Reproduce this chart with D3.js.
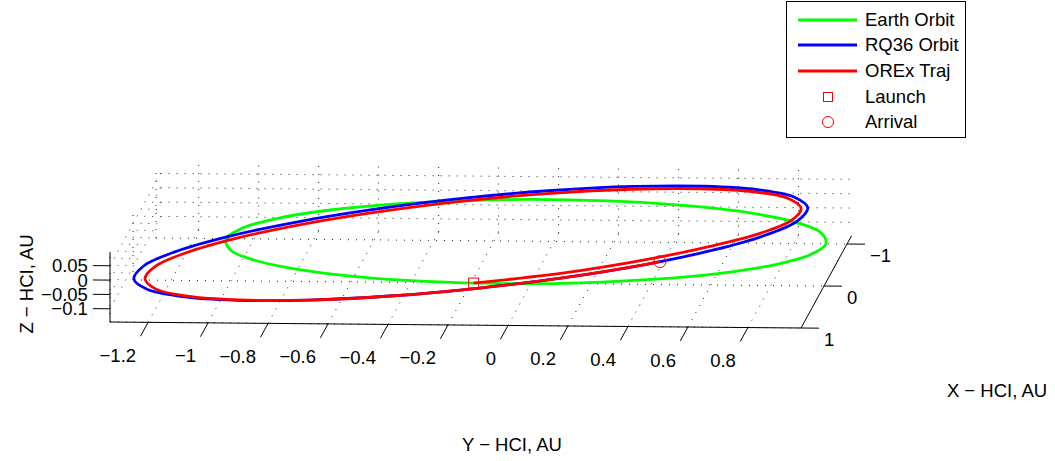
<!DOCTYPE html>
<html>
<head>
<meta charset="utf-8">
<script src="https://cdn.jsdelivr.net/npm/d3@7"></script>
<style>
  body { margin: 0; background: #fff; }
  text { font-family: "Liberation Sans", Arial, Helvetica, sans-serif; font-size: 18.5px; fill: #000; }
</style>
</head>
<body>
<svg id="chart" width="1055" height="461"></svg>
<script>
// axis limits (axis tight) and ticks
const xLim = [-1.327, 0.977];
const yLim = [-1.2, 1.0];
const zLim = [-0.146, 0.098];
const xTicks = [-1.2, -1, -0.8, -0.6, -0.4, -0.2, 0, 0.2, 0.4, 0.6, 0.8];
const xTickLabels = ["−1.2", "−1", "−0.8", "−0.6", "−0.4", "−0.2", "0", "0.2", "0.4", "0.6", "0.8"];
const yTicks = [-1, 0, 1];
const yTickLabels = ["−1", "0", "1"];
const zTicks = [-0.1, -0.05, 0, 0.05];
const zTickLabels = ["−0.1", "−0.05", "0", "0.05"];

// Earth orbit, Z = 0
const earthX = [0.9833, 0.9492, 0.8493, 0.6904, 0.4833, 0.2421, -0.0167, -0.2755, -0.5167, -0.7238, -0.8827, -0.9826,
  -1.0167, -0.9826, -0.8827, -0.7238, -0.5167, -0.2755, -0.0167, 0.2421, 0.4833, 0.6904, 0.8493, 0.9492];
const earthY = [0, 0.2588, 0.5, 0.7071, 0.866, 0.9659, 1, 0.9659, 0.866, 0.7071, 0.5, 0.2588,
  0, -0.2588, -0.5, -0.7071, -0.866, -0.9659, -1, -0.9659, -0.866, -0.7071, -0.5, -0.2588];

// RQ36 orbit
const rq36X = [0.8123, 0.657, 0.4427, 0.1841, -0.1012, -0.3939, -0.6739, -0.9221, -1.1217, -1.2591, -1.3248, -1.3144,
  -1.2287, -1.0734, -0.859, -0.6005, -0.3151, -0.0225, 0.2575, 0.5057, 0.7054, 0.8427, 0.9085, 0.898];
const rq36Y = [0.3788, 0.621, 0.8144, 0.9456, 1.0058, 0.9908, 0.9016, 0.7445, 0.5299, 0.2727, -0.0097, -0.2982,
  -0.5729, -0.8152, -1.0085, -1.1397, -1.1999, -1.1849, -1.0958, -0.9386, -0.724, -0.4668, -0.1844, 0.104];
const rq36Z = [0.0859, 0.0677, 0.0433, 0.0146, -0.0166, -0.0483, -0.0781, -0.1041, -0.1246, -0.138, -0.1435, -0.1407,
  -0.1299, -0.1117, -0.0873, -0.0586, -0.0274, 0.0043, 0.0341, 0.0601, 0.0806, 0.094, 0.0995, 0.0967];

// OREx trajectory, launch -> arrival
const orexX = [-0.115, 0.1823, 0.4361, 0.6439, 0.7944, 0.8773, 0.8867, 0.8216, 0.6878, 0.4931, 0.2511, -0.0219,
  -0.3066, -0.5837, -0.8341, -1.0412, -1.1918, -1.275, -1.2877, -1.2314, -1.106, -0.9166, -0.6739, -0.3939,
  -0.1012, 0.1841, 0.4427, 0.49];
const orexY = [0.995, 0.9361, 0.8022, 0.6086, 0.3705, 0.1016, -0.18, -0.4551, -0.7059, -0.9151, -1.0684, -1.1541,
  -1.1675, -1.1078, -0.9793, -0.7907, -0.5557, -0.2893, -0.0094, 0.2667, 0.5225, 0.74, 0.9016, 0.9908,
  1.0058, 0.9456, 0.8144, 0.78];
const orexZ = [0, 0.0295, 0.0567, 0.0783, 0.091, 0.0975, 0.0971, 0.0917, 0.0766, 0.0546, 0.0282, -0.0008,
  -0.0317, -0.062, -0.0898, -0.1133, -0.131, -0.1405, -0.1425, -0.137, -0.1239, -0.1035, -0.0781, -0.0483,
  -0.0166, 0.0146, 0.0433, 0.0486];

const launchPt = [-0.115, 0.995, 0];
const arrivalPt = [0.49, 0.78, 0.0486];

const legendNames = ["Earth Orbit", "RQ36 Orbit", "OREx Traj", "Launch", "Arrival"];

const svg = d3.select("#chart");
svg.append("rect").attr("width", 1055).attr("height", 461).attr("fill", "#fff");

// simple orthographic projection built from three linear scales
const xScale = d3.scaleLinear().domain(xLim).range([0, 691]);
const yScale = d3.scaleLinear().domain([yLim[1], yLim[0]]).range([0, 1]); // depth
const zScale = d3.scaleLinear().domain(zLim).range([0, 70]);
const ORIGIN = [110, 322];
function project(p) {
  const u = xScale(p[0]), d = yScale(p[1]), h = zScale(p[2]);
  return [ORIGIN[0] + u + 50.6 * d, ORIGIN[1] + u * 0.0087 - 92.4 * d - h];
}

const g = svg.append("g");

// dotted grid on floor and back walls
const grid = [];
for (const x of xTicks) {
  grid.push([[x, yLim[1], zLim[0]], [x, yLim[0], zLim[0]]]);
  grid.push([[x, yLim[0], zLim[0]], [x, yLim[0], zLim[1]]]);
}
for (const y of yTicks) {
  grid.push([[xLim[0], y, zLim[0]], [xLim[1], y, zLim[0]]]);
  grid.push([[xLim[0], y, zLim[0]], [xLim[0], y, zLim[1]]]);
}
for (const z of zTicks) {
  grid.push([[xLim[0], yLim[0], z], [xLim[1], yLim[0], z]]);
  grid.push([[xLim[0], yLim[0], z], [xLim[0], yLim[1], z]]);
}
const seg = d3.line().x(d => project(d)[0]).y(d => project(d)[1]);
g.append("g").selectAll("path").data(grid).join("path")
  .attr("d", seg)
  .attr("fill", "none")
  .attr("stroke", "#222")
  .attr("stroke-width", 1)
  .attr("stroke-dasharray", "1,7");

// axis lines
const axes = [
  [[xLim[0], yLim[1], zLim[0]], [xLim[1], yLim[1], zLim[0]]],
  [[xLim[1], yLim[0], zLim[0]], [xLim[1], yLim[1], zLim[0]]],
  [[xLim[0], yLim[1], zLim[0]], [xLim[0], yLim[1], zLim[1]]]
];
g.append("g").selectAll("path").data(axes).join("path")
  .attr("d", seg).attr("stroke", "#000").attr("stroke-width", 1).attr("fill", "none");

// ticks
const ticks = [];
xTicks.forEach(x => ticks.push([[x, yLim[1], zLim[0]], [x, yLim[1] + 0.33, zLim[0]]]));
yTicks.forEach(y => ticks.push([[xLim[1], y, zLim[0]], [xLim[1] + 0.06, y, zLim[0]]]));
zTicks.forEach(z => ticks.push([[xLim[0], yLim[1], z], [xLim[0] - 0.057, yLim[1], z]]));
g.append("g").selectAll("path").data(ticks).join("path")
  .attr("d", seg).attr("stroke", "#000").attr("stroke-width", 1).attr("fill", "none");

// tick labels
g.append("g").selectAll("text").data(xTicks).join("text")
  .attr("x", d => project([d, yLim[1], zLim[0]])[0] - 12)
  .attr("y", d => project([d, yLim[1], zLim[0]])[1] + 33)
  .attr("text-anchor", "end").attr("dy", "0.35em")
  .text((d, i) => xTickLabels[i]);
g.append("g").selectAll("text").data(yTicks).join("text")
  .attr("x", d => project([xLim[1] + 0.06, d, zLim[0]])[0] + 5)
  .attr("y", d => project([xLim[1] + 0.06, d, zLim[0]])[1] + 11)
  .attr("text-anchor", "start").attr("dy", "0.35em")
  .text((d, i) => yTickLabels[i]);
g.append("g").selectAll("text").data(zTicks).join("text")
  .attr("x", d => project([xLim[0] - 0.057, yLim[1], d])[0] - 5)
  .attr("y", d => project([xLim[0], yLim[1], d])[1])
  .attr("text-anchor", "end").attr("dy", "0.35em")
  .text((d, i) => zTickLabels[i]);

// axis labels
svg.append("text").attr("x", 997).attr("y", 391).attr("text-anchor", "middle").attr("dy", "0.35em").text("X − HCI, AU");
svg.append("text").attr("x", 512).attr("y", 445).attr("text-anchor", "middle").attr("dy", "0.35em").text("Y − HCI, AU");
svg.append("text").attr("transform", "translate(27,284) rotate(-90)").attr("text-anchor", "middle").attr("dy", "0.35em").text("Z − HCI, AU");

// orbits
const curveLine = d3.line().x(d => project(d)[0]).y(d => project(d)[1]);
const earthPts = earthX.map((x, i) => [x, earthY[i], 0]);
const rq36Pts = rq36X.map((x, i) => [x, rq36Y[i], rq36Z[i]]);
const orexPts = orexX.map((x, i) => [x, orexY[i], orexZ[i]]);

g.append("path").attr("d", curveLine.curve(d3.curveCatmullRomClosed)(earthPts))
  .attr("fill", "none").attr("stroke", "#00ff00").attr("stroke-width", 2.8);
g.append("path").attr("d", curveLine.curve(d3.curveCatmullRomClosed)(rq36Pts))
  .attr("fill", "none").attr("stroke", "#0000ff").attr("stroke-width", 2.8);
g.append("path").attr("d", curveLine.curve(d3.curveCatmullRom)(orexPts))
  .attr("fill", "none").attr("stroke", "#ff0000").attr("stroke-width", 2.8);

// launch / arrival markers
const lp = project(launchPt), ap = project(arrivalPt);
g.append("rect").attr("x", lp[0] - 5).attr("y", lp[1] - 5).attr("width", 10).attr("height", 10)
  .attr("fill", "none").attr("stroke", "#ff0000").attr("stroke-width", 1);
g.append("circle").attr("cx", ap[0]).attr("cy", ap[1]).attr("r", 6)
  .attr("fill", "none").attr("stroke", "#ff0000").attr("stroke-width", 1);

// legend
const legend = svg.append("g");
legend.append("rect").attr("x", 786.5).attr("y", 1.5).attr("width", 179).attr("height", 136)
  .attr("fill", "#fff").attr("stroke", "#000").attr("stroke-width", 1);
const legY = [20, 45, 71, 97, 122];
const legColors = ["#00ff00", "#0000ff", "#ff0000"];
legColors.forEach((c, i) => {
  legend.append("line").attr("x1", 798).attr("x2", 857).attr("y1", legY[i]).attr("y2", legY[i])
    .attr("stroke", c).attr("stroke-width", 2.8);
});
legend.append("rect").attr("x", 828 - 4.5).attr("y", legY[3] - 4.5).attr("width", 9).attr("height", 9)
  .attr("fill", "none").attr("stroke", "#ff0000");
legend.append("circle").attr("cx", 828).attr("cy", legY[4]).attr("r", 5.5)
  .attr("fill", "none").attr("stroke", "#ff0000");
legend.selectAll("text.leg").data(legendNames).join("text")
  .attr("class", "leg")
  .attr("x", 865).attr("y", (d, i) => legY[i]).attr("dy", "0.35em")
  .text(d => d);
</script>
</body>
</html>
